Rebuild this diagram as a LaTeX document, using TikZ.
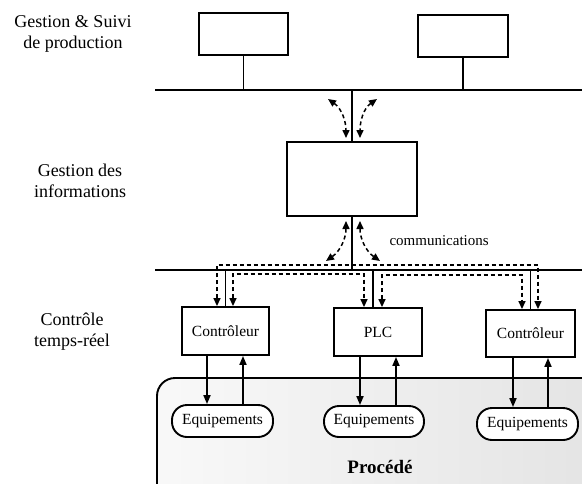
\documentclass[tikz,border=0pt]{standalone}
\usepackage{fontspec}
\setmainfont{Liberation Serif}
\usetikzlibrary{arrows.meta}
\begin{document}
\begin{tikzpicture}[x=1pt,y=1pt,
  bx/.style={draw, line width=1.9pt, inner sep=0pt, fill=white},
  boxtxt/.style={font=\fontsize{15.5}{17}\selectfont},
  equip/.style={draw, line width=1.9pt, rounded corners=15pt, fill=white, inner sep=0pt, font=\fontsize{15.5}{17}\selectfont},
  lbl/.style={align=center, font=\fontsize{18}{21}\selectfont},
  bus/.style={line width=1.7pt},
  link/.style={line width=1.8pt},
  darr/.style={line width=1.5pt, dash pattern=on 4pt off 3pt, {Triangle[length=8pt,width=7pt]}-{Triangle[length=8pt,width=7pt]}},
  sarr/.style={line width=1.8pt, -{Triangle[length=9pt,width=7pt]}}
]
\useasboundingbox (0,0) rectangle (582,-483);
\clip (0,0) rectangle (582,-483);

% process area
\path[draw, line width=1.9pt, rounded corners=18pt, left color=gray!5, right color=gray!22]
  (157,-520) -- (157,-378) -- (620,-378) -- (620,-520) -- cycle;
\node[font=\bfseries\fontsize{19}{21}\selectfont] (proc) at (380,-467) {Procédé};

% level labels
\node[lbl] (l1) at (73,-34) {Gestion \& Suivi\\de production};
\node[lbl] (l2) at (80,-181) {Gestion des\\informations};
\node[lbl] (l3) at (72,-332) {Contrôle\\temps-réel};

% buses
\coordinate (b1L) at (155,-90);
\coordinate (b1R) at (582,-90);
\coordinate (b2L) at (155,-270);
\coordinate (b2R) at (582,-270);
\draw[bus] (b1L) -- (b1R);
\draw[bus] (b2L) -- (b2R);

% top boxes
\node[bx, minimum width=89pt, minimum height=42pt] (t1) at (243.5,-34) {};
\node[bx, minimum width=90pt, minimum height=42pt] (t2) at (463,-36) {};
\draw[link] (t1.south) -- (t1.south |- b1L);
\draw[link] (t2.south) -- (t2.south |- b1L);

% middle box
\node[bx, minimum width=130pt, minimum height=74pt] (m) at (352,-179) {};
\draw[link] (m.north) -- (m.north |- b1L);
\draw[link] (m.south) -- (m.south |- b2L);

% dashed exchanges around middle box
\draw[darr] (328,-99) to[out=-35, in=90] (346,-138);
\draw[darr] (377,-99) to[out=215, in=90] (360,-138);
\draw[darr] (346,-221) to[out=-90, in=35] (326,-261);
\draw[darr] (360,-221) to[out=-90, in=145] (380,-261);
\node[font=\fontsize{15}{17}\selectfont, anchor=west] (comm) at (386,-241) {communications};

% controllers
\node[bx, boxtxt, minimum width=87pt, minimum height=48pt] (c1) at (225.5,-331) {Contrôleur};
\node[bx, boxtxt, minimum width=88pt, minimum height=48pt] (plc) at (378,-332) {PLC};
\node[bx, boxtxt, minimum width=89pt, minimum height=47pt] (c2) at (530.5,-333.5) {Contrôleur};

\draw[link] (c1.north) -- (c1.north |- b2L);
\draw[link] (plc.north -| 373,0) -- (373,-270);
\draw[link] (c2.north) -- (c2.north |- b2L);

% dashed controller links
\draw[darr] (c1.north -| 217,0) -- (217,-265) -- (538,-265) -- (c2.north -| 538,0);
\draw[darr] (c1.north -| 233,0) -- (233,-274) -- (364,-274) -- (plc.north -| 364,0);
\draw[darr] (plc.north -| 382,0) -- (382,-275) -- (522,-275) -- (c2.north -| 522,0);

% equipment
\node[equip, minimum width=101pt, minimum height=32pt] (e1) at (222.5,-421) {Equipements};
\node[equip, minimum width=100pt, minimum height=31pt] (e2) at (374,-421.5) {Equipements};
\node[equip, minimum width=101pt, minimum height=32pt] (e3) at (527.5,-424) {Equipements};

\draw[sarr] (c1.south -| 207,0) -- (e1.north -| 207,0);
\draw[sarr] (e1.north -| 243,0) -- (c1.south -| 243,0);
\draw[sarr] (plc.south -| 360,0) -- (e2.north -| 360,0);
\draw[sarr] (e2.north -| 396,0) -- (plc.south -| 396,0);
\draw[sarr] (c2.south -| 513,0) -- (e3.north -| 513,0);
\draw[sarr] (e3.north -| 548,0) -- (c2.south -| 548,0);
\end{tikzpicture}
\end{document}
